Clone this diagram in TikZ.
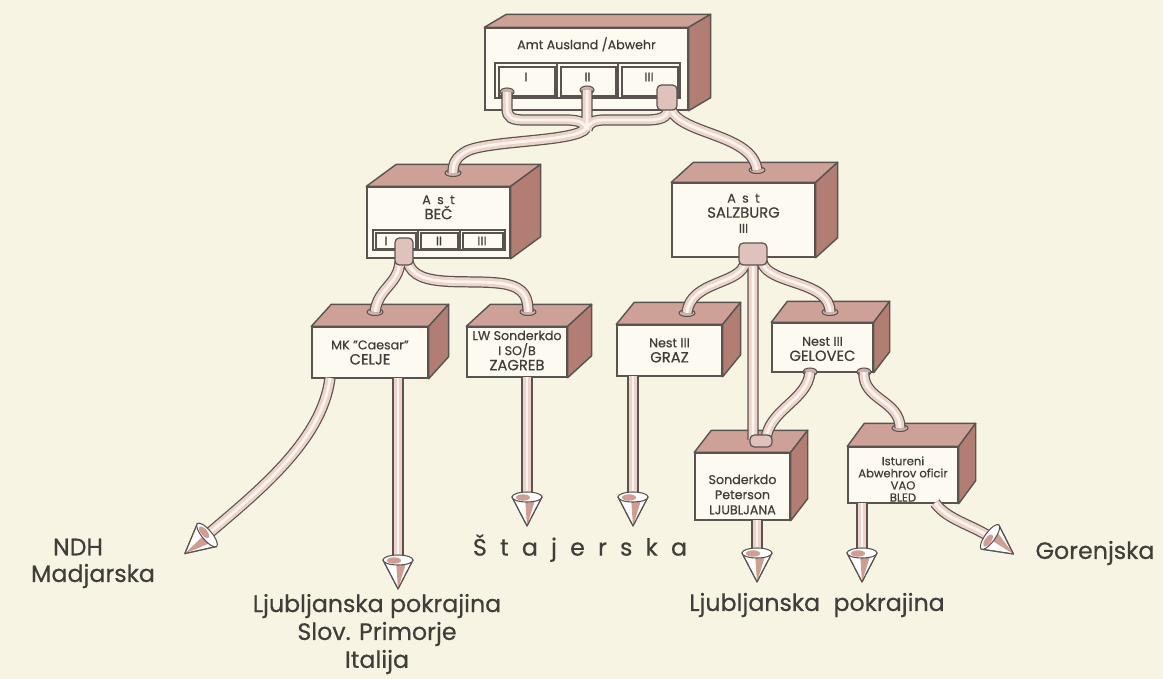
\documentclass[tikz,border=0pt]{standalone}
\usepackage{fontspec}
\setmainfont{Poppins}[FakeBold=0.5]
\usetikzlibrary{calc,positioning}

\definecolor{bgcol}{HTML}{F7F4E3}
\definecolor{linec}{HTML}{5A5350}
\definecolor{topcol}{HTML}{CDA197}
\definecolor{sidecol}{HTML}{B27D73}
\definecolor{frontcol}{HTML}{FCFAF1}
\definecolor{cabcol}{HTML}{EDD3C9}
\definecolor{cabdark}{HTML}{CF9D92}
\definecolor{cablite}{HTML}{FBF4EF}
\definecolor{inkcol}{HTML}{403D3A}

\tikzset{
  front/.style={draw=linec, fill=frontcol, line width=0.8pt, inner sep=0pt},
  winline/.style={draw=linec, line width=0.6pt},
  boxlbl/.style={text=inkcol, font=\fontsize{7.2}{8.6}\selectfont, inner sep=0pt, align=center},
  biglbl/.style={text=inkcol, font=\fontsize{13.5}{15.9}\selectfont, inner sep=0pt, align=center},
  cable/.style={draw=cabcol, line width=5pt, preaction={draw=linec, line width=6.4pt},
    postaction={draw=cablite, line width=1.6pt}},
  plug/.style={draw=linec, fill=sidecol!60!white, line width=0.6pt},
  collar/.style={draw=linec, fill=topcol!65!white, line width=0.7pt, rounded corners=2.5pt},
  cone/.pic={
    \filldraw[fill=white, draw=linec, line width=0.6pt, line join=round] (-15,0) -- (0,29) -- (15,0) -- cycle;
    \fill[cabdark] (-2,0) -- (0,29) -- (9,0) -- cycle;
    \draw[linec, line width=0.6pt, line join=round] (-15,0) -- (0,29) -- (15,0);
    \filldraw[fill=white, draw=linec, line width=0.6pt] (0,0) ellipse [x radius=15, y radius=5];
    \fill[cabdark] (-4,0.5) ellipse [x radius=7, y radius=3.2];
  }
}

% top and right side of a box drawn behind its front face
\newcommand\cubeback[3]{%
  \filldraw[fill=topcol, draw=linec, line width=0.8pt, line join=round]
    (#1.north west) -- ++(#2,#3) -- ($(#1.north east)+(#2,#3)$) -- (#1.north east) -- cycle;
  \filldraw[fill=sidecol, draw=linec, line width=0.8pt, line join=round]
    (#1.north east) -- ++(#2,#3) -- ($(#1.south east)+(#2,#3)$) -- (#1.south east) -- cycle;}

\newcommand\gap{\hspace{7.5pt}}
\newcommand\city[1]{{\fontsize{8.4}{9.4}\selectfont #1}}

\begin{document}
\begin{tikzpicture}[x=0.02cm, y=-0.02cm]
\fill[bgcol] (0,0) rectangle (1163,679);
\useasboundingbox (0,0) rectangle (1163,679);

% boxes
\node[front, minimum width=4.06cm, minimum height=1.64cm] (amt) at (586.5,69) {};
\cubeback{amt}{22}{-13}
\node[front, minimum width=2.86cm, minimum height=1.42cm] (bec) at (438.5,222.5) {};
\cubeback{bec}{30}{-22}
\node[front, minimum width=2.86cm, minimum height=1.48cm] (salz) at (743.5,220) {};
\cubeback{salz}{22}{-20}
\node[front, minimum width=2.32cm, minimum height=1.02cm] (celje) at (370,352.5) {};
\cubeback{celje}{20}{-22}
\node[front, minimum width=2.0cm, minimum height=1.0cm] (zagreb) at (517,352) {};
\cubeback{zagreb}{24}{-22}
\node[front, minimum width=2.1cm, minimum height=1.02cm] (graz) at (669.5,350.5) {};
\cubeback{graz}{18}{-22}
\node[front, minimum width=2.02cm, minimum height=0.98cm] (gelovec) at (822.5,347.5) {};
\cubeback{gelovec}{16}{-21}
\node[front, minimum width=1.9cm, minimum height=1.34cm] (peterson) at (742.5,486.5) {};
\cubeback{peterson}{17}{-22}
\node[front, minimum width=2.2cm, minimum height=1.12cm] (bled) at (903,475) {};
\cubeback{bled}{17}{-23}

% windows
\foreach \xa/\xb/\t in {495/557/I, 557/618/II, 618/680/III} {
  \draw[winline] (\xa,63) rectangle (\xb,98);
  \draw[winline] (\xa+4,67) rectangle (\xb-2,96);
  \node[boxlbl] (amtc\t) at ({(\xa+\xb)/2},77) {\t};
}
\foreach \xa/\xb/\xl/\t in {373/418/386/I, 418/460/439/II, 460/505/482/III} {
  \draw[winline] (\xa,230) rectangle (\xb,250);
  \draw[winline] (\xa+3,233) rectangle (\xb-2,249);
  \node[boxlbl] (becc\t) at (\xl,241) {\t};
}

% plugs
\coordinate (amtI) at (507,92);
\coordinate (amtII) at (587,90);
\coordinate (amtIII) at (668,108);
\coordinate (becIn) at (453,173);
\coordinate (salzIn) at (757,170);
\coordinate (celjeIn) at (375,312);
\coordinate (zagrebIn) at (528,312);
\coordinate (grazIn) at (687,313);
\coordinate (gelIn) at (830,312);
\coordinate (gelOutA) at (810,372);
\coordinate (gelOutB) at (864,372);
\coordinate (petIn) at (761,437);
\coordinate (bledIn) at (900,428);
\foreach \p in {amtI, amtII, gelOutA, gelOutB}
  \filldraw[plug] (\p) ellipse [x radius=7, y radius=4];
\foreach \p in {becIn, salzIn, celjeIn, zagrebIn, grazIn, gelIn, bledIn}
  \filldraw[plug] (\p) ellipse [x radius=8, y radius=3.5];

% cables
\draw[cable] (amtI) -- (507,108) .. controls (507,118) and (512,120) .. (525,120) -- (565,120)
    .. controls (578,120) and (586,122) .. (586,130)
  (amtII) -- (587,130)
  (amtIII) .. controls (668,118) and (660,120) .. (645,120) -- (605,120)
    .. controls (595,120) and (588,122) .. (587,130)
  (586,128) .. controls (578,142) and (490,140) .. (467,151) .. controls (456,157) and (453,163) .. (becIn)
  (670,106) .. controls (675,135) and (752,132) .. (salzIn);
\draw[cable] (400,262) .. controls (398,285) and (378,288) .. (celjeIn)
  (408,262) .. controls (415,290) and (470,278) .. (505,284) .. controls (525,288) and (528,298) .. (zagrebIn);
\draw[cable] (745,262) .. controls (742,285) and (690,280) .. (grazIn)
  (762,262) .. controls (768,285) and (830,280) .. (gelIn)
  (753,262) -- (753,440);
\draw[cable] (gelOutA) .. controls (808,400) and (768,410) .. (766,440);
\draw[cable] (gelOutB) .. controls (862,400) and (900,400) .. (bledIn);

% collars
\draw[collar] (657,110) -- (657,85) -- (677,85) -- (677,110) -- cycle;
\draw[collar] (395,265) -- (395,238) -- (413,238) -- (413,265) -- cycle;
\draw[collar] (739,265) -- (739,243) -- (767,243) -- (767,265) -- cycle;
\draw[collar] (750,447) -- (750,435) -- (772,435) -- (772,447) -- cycle;

% arrows out
\coordinate (s1) at (330,378);  \coordinate (c1) at (207,535);
\coordinate (s2) at (398,378);  \coordinate (c2) at (398,560);
\coordinate (s3) at (527,377);  \coordinate (c3) at (527,497);
\coordinate (s4) at (633,376);  \coordinate (c4) at (633,497);
\coordinate (s5) at (757,520);  \coordinate (c5) at (757,553);
\coordinate (s6) at (862,503);  \coordinate (c6) at (862,553);
\coordinate (s7) at (935,503);  \coordinate (c7) at (990,537);
\draw[cable] (s1) .. controls (322,440) and (260,490) .. (c1);
\draw[cable] (s7) .. controls (948,520) and (970,524) .. (c7);
\foreach \i in {2,...,6}
  \draw[cable] (s\i) -- (c\i);
\pic[rotate=-50] at (c1) {cone};
\pic[rotate=54] at (c7) {cone};
\foreach \i in {2,...,6}
  \pic at (c\i) {cone};

% box texts
\node[boxlbl] (amtlbl) at ($(amt.north)+(0,17)$) {Amt Ausland /Abwehr};
\node[boxlbl] (beclbl) at ($(bec.north)+(0,21)$) {A\enspace s\enspace t\\\city{BEČ}};
\node[boxlbl] (salzlbl) at ($(salz.north)+(0,31)$) {A\enspace s\enspace t\\\city{SALZBURG}\\III};
\node[boxlbl] (celjelbl) at (celje.center) {MK "Caesar"\\\city{CELJE}};
\node[boxlbl] (zagreblbl) at ($(zagreb.center)+(0,-1.5)$) {LW Sonderkdo\\I SO/B\\\city{ZAGREB}};
\node[boxlbl] (grazlbl) at (graz.center) {Nest III\\\city{GRAZ}};
\node[boxlbl] (gellbl) at ($(gelovec.center)+(0,1.5)$) {Nest III\\\city{GELOVEC}};
\node[boxlbl] (petlbl) at ($(peterson.center)+(0,8)$) {Sonderkdo\\Peterson\\LJUBLJANA};
\node[boxlbl, font=\fontsize{6.6}{6.9}\selectfont] (bledlbl) at ($(bled.center)+(0,4)$)
  {Istureni\\Abwehrov oficir\\VAO\\BLED};

% regions
\node[biglbl] (ndh) at (78,547) {NDH};
\node[biglbl] (madj) at (93,576) {Madjarska};
\node[biglbl] (ljleft) at (377,634) {Ljubljanska pokrajina\\Slov. Primorje\\Italija};
\node[biglbl] (stajer) at (580,548) {Š\gap t\gap a\gap j\gap e\gap r\gap s\gap k\gap a};
\node[biglbl] (ljright) at (817,605) {Ljubljanska\hspace{4pt} pokrajina};
\node[biglbl] (goren) at (1095,553) {Gorenjska};
\end{tikzpicture}
\end{document}
